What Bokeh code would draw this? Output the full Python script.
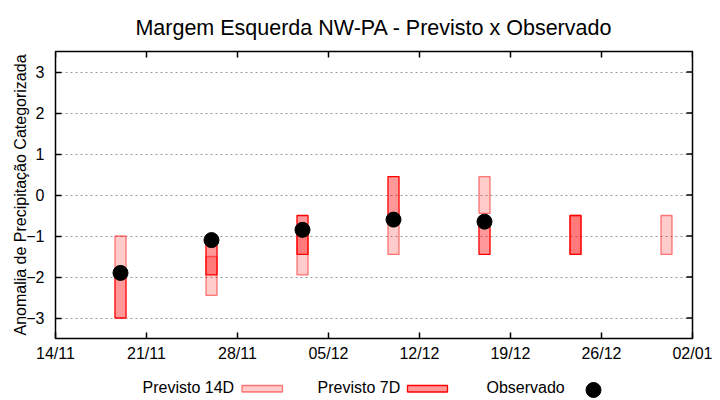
import math
from datetime import datetime
from bokeh.plotting import figure
from bokeh.models import Range1d, FixedTicker, Label, ColumnDataSource
from bokeh.layouts import column
from bokeh.embed import file_html
from bokeh.resources import INLINE

# ---- data ----
dates = ["2023-11-19", "2023-11-26", "2023-12-03", "2023-12-10",
         "2023-12-17", "2023-12-24", "2023-12-31"]
p14_top = [-1.0, -1.5, -0.95, -0.6, 0.45, -0.5, -0.5]
p14_bot = [-2.0, -2.45, -1.95, -1.45, -0.45, -1.45, -1.45]
p7_dates = ["2023-11-19", "2023-11-26", "2023-12-03", "2023-12-10",
            "2023-12-17", "2023-12-24"]
p7_top = [-2.0, -1.15, -0.5, 0.45, -0.55, -0.5]
p7_bot = [-3.0, -1.95, -1.45, -0.6, -1.45, -1.45]
obs_dates = ["2023-11-19", "2023-11-26", "2023-12-03", "2023-12-10", "2023-12-17"]
obs_vals = [-1.9, -1.1, -0.85, -0.6, -0.65]
tick_dates = ["2023-11-14", "2023-11-21", "2023-11-28", "2023-12-05",
              "2023-12-12", "2023-12-19", "2023-12-26", "2024-01-02"]
tick_labels = ["14/11", "21/11", "28/11", "05/12", "12/12", "19/12", "26/12", "02/01"]
y_ticks = [-3, -2, -1, 0, 1, 2, 3]
y_min, y_max = -3.5, 3.5
title_text = "Margem Esquerda NW-PA - Previsto x Observado"
y_title = "Anomalia de Precipitação Categorizada"
legend_labels = ["Previsto 14D", "Previsto 7D", "Observado"]

FONT = "Liberation Sans"
DAY = 86400000.0


def to_ms(s):
    return (datetime.strptime(s, "%Y-%m-%d") - datetime(1970, 1, 1)).total_seconds() * 1000.0


def strip(height, y_top, y_bottom):
    # strip figure whose frame is aligned (by the column) with the plot frame;
    # its ranges are pixel-like layout coordinates
    f = figure(width=720, height=height, output_backend="svg", toolbar_location=None,
               x_axis_location=None, y_axis_location=None,
               x_range=Range1d(55, 692), y_range=Range1d(y_bottom, y_top),
               min_border=0, min_border_left=55, min_border_right=28,
               min_border_top=0, min_border_bottom=0)
    f.grid.visible = False
    f.outline_line_color = None
    return f


x0, x1 = to_ms(tick_dates[0]), to_ms(tick_dates[-1])

# ---- title strip ----
tf = strip(50, 0, 50)
tf.add_layout(Label(x=373.5, y=27.5, text=title_text, text_font=FONT,
                    text_font_size="21.5px", text_align="center",
                    text_baseline="alphabetic", text_color="black"))

# ---- main plot ----
p = figure(width=720, height=317, x_axis_type="datetime",
           output_backend="svg", toolbar_location=None,
           x_range=Range1d(x0, x1), y_range=Range1d(y_min, y_max),
           min_border_left=55, min_border_right=28,
           min_border_top=1, min_border_bottom=29)

p.outline_line_color = "black"
p.outline_line_width = 1.5
p.xgrid.visible = False
p.ygrid.grid_line_color = "#999999"
p.ygrid.grid_line_dash = "2 3"
p.ygrid.grid_line_width = 1
p.ygrid.ticker = FixedTicker(ticks=y_ticks)

# x axis
xa = p.xaxis[0]
xa.ticker = FixedTicker(ticks=[to_ms(d) for d in tick_dates])
xa.major_label_overrides = {to_ms(d): l for d, l in zip(tick_dates, tick_labels)}
xa.major_label_text_font = FONT
xa.major_label_text_font_size = "16px"
xa.major_label_text_color = "black"
xa.major_tick_in = 6
xa.major_tick_out = 0
xa.minor_tick_in = 0
xa.minor_tick_out = 0
xa.major_tick_line_width = 1.5
xa.axis_line_color = None
xa.major_label_standoff = 6

# y axis
ya = p.yaxis[0]
ya.ticker = FixedTicker(ticks=y_ticks)
ya.axis_label = y_title
ya.axis_label_text_font = FONT
ya.axis_label_text_font_size = "16px"
ya.axis_label_text_font_style = "normal"
ya.axis_label_text_color = "black"
ya.axis_label_standoff = -6
ya.major_label_text_font = FONT
ya.major_label_text_font_size = "16px"
ya.major_label_text_color = "black"
ya.major_tick_in = 6
ya.major_tick_out = 0
ya.minor_tick_in = 0
ya.minor_tick_out = 0
ya.major_tick_line_width = 1.5
ya.axis_line_color = None
ya.major_label_standoff = 11

# mirrored ticks (right and top), 6px long, pointing inwards
p.ray(x=[x1] * len(y_ticks), y=y_ticks, length=6, length_units="screen",
      angle=math.pi, line_color="black", line_width=1.5)
p.ray(x=[to_ms(d) for d in tick_dates], y=[y_max] * len(tick_dates), length=6,
      length_units="screen", angle=-math.pi / 2, line_color="black", line_width=1.5)

bar_w = 0.85 * DAY

src14 = ColumnDataSource(dict(x=[to_ms(d) for d in dates], top=p14_top, bottom=p14_bot))
p.vbar(x="x", top="top", bottom="bottom", width=bar_w, source=src14,
       fill_color="red", fill_alpha=0.2, line_color="red", line_alpha=0.5,
       line_width=1.3)

src7 = ColumnDataSource(dict(x=[to_ms(d) for d in p7_dates], top=p7_top, bottom=p7_bot))
p.vbar(x="x", top="top", bottom="bottom", width=bar_w, source=src7,
       fill_color="red", fill_alpha=0.4, line_color="red", line_alpha=1.0,
       line_width=1.3)

srco = ColumnDataSource(dict(x=[to_ms(d) for d in obs_dates], y=obs_vals))
p.scatter(x="x", y="y", source=srco, size=15, color="black", marker="circle")

# ---- legend strip below the plot (gnuplot style: text, then sample) ----
lg = strip(33, 367, 400)
for tx, lbl in zip([142, 317, 486], legend_labels):
    lg.add_layout(Label(x=tx, y=387, text=lbl, text_font=FONT,
                        text_font_size="16px", text_baseline="alphabetic",
                        text_color="black"))

lg.quad(left=[241.5], right=[282], top=[385], bottom=[391.5],
        fill_color="red", fill_alpha=0.2, line_color="red", line_alpha=0.5,
        line_width=1.3)
lg.quad(left=[407], right=[447], top=[385], bottom=[391.5],
        fill_color="red", fill_alpha=0.4, line_color="red", line_width=1.3)
lg.scatter(x=[593], y=[389.5], size=15, color="black", marker="circle")

layout = column(tf, p, lg, spacing=0)
open("out.html", "w").write(file_html(layout, INLINE))
